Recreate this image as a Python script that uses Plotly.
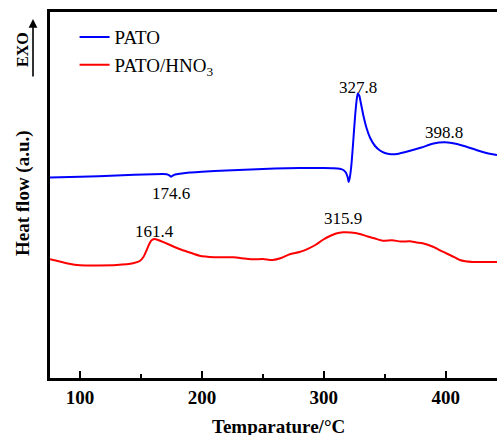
import plotly.graph_objects as go

# PATO (blue) DSC curve: temperature (°C) and heat flow (a.u.)
pato_T = [75.4, 100, 130, 160, 168, 171, 173, 174.6, 176, 178, 182, 190, 200, 220, 250, 270,
          290, 300, 308, 313, 316, 318, 319.5, 320.3, 321.2, 322.5, 324, 325.5, 326.8, 327.8,
          329, 330.5, 332.5, 335, 338, 342, 346, 350, 355, 360, 370, 380, 390, 398.8, 405,
          415, 425, 435, 442]
pato_H = [200.5, 201.2, 202.5, 203.8, 204.0, 203.8, 202.8, 201.3, 202.3, 203.5, 204.3, 205.5, 206.2,
          207.5, 209.0, 209.8, 210.0, 210.0, 209.8, 209.2, 208.0, 205.5, 201.0, 196.0, 200.0, 212.0,
          235.0, 260.0, 277.0, 284.5, 282.5, 274.0, 262.0, 250.0, 240.0, 232.0, 227.5, 225.0,
          223.8, 224.0, 227.0, 230.5, 234.5, 235.7, 235.0, 232.0, 228.0, 224.5, 223.0]

# PATO/HNO3 (red) DSC curve
hno3_T = [75.4, 90, 100, 115, 130, 143.5, 149, 152, 154.7, 157, 159, 161.4, 163, 165.6, 172,
          182, 190, 198, 210, 225.7, 235, 242, 250, 258, 265, 272, 280, 286, 293, 299, 305,
          310, 315.9, 322, 329.5, 336, 342, 348.4, 356, 363, 370.5, 376, 381, 390, 397.5,
          405, 411.5, 422, 432, 442]
hno3_H = [118.7, 114.5, 112.7, 112.6, 113.0, 114.7, 117.0, 121.0, 128.0, 134.5, 138.0, 139.0,
          138.5, 137.3, 134.0, 128.7, 125.5, 122.3, 120.8, 120.7, 119.5, 118.7, 119.0, 118.0,
          120.0, 123.7, 126.0, 128.7, 133.0, 138.0, 142.0, 144.5, 145.7, 145.5, 144.0, 141.5,
          139.5, 137.3, 137.8, 136.5, 136.7, 135.5, 134.7, 131.0, 126.3, 122.0, 118.0, 116.0,
          116.0, 116.0]

# Peak labels: (temperature, heat flow position, text)
peak_T = [174.6, 161.4, 327.8, 398.8, 315.9]
peak_H = [185.0, 147.0, 291.0, 246.0, 160.0]
peak_txt = ["174.6", "161.4", "327.8", "398.8", "315.9"]

tick_vals = [100, 200, 300, 400]
tick_txt = ["<b>100</b>", "<b>200</b>", "<b>300</b>", "<b>400</b>"]

serif = "Liberation Serif"
PW, PH = 447, 366  # plot area size in px

fig = go.Figure()
fig.add_trace(go.Scatter(x=pato_T, y=pato_H, mode="lines", name="PATO",
                         line=dict(color="#0000ff", width=2, shape="spline", smoothing=0.6)))
fig.add_trace(go.Scatter(x=hno3_T, y=hno3_H, mode="lines", name="PATO/HNO<sub>3</sub>",
                         line=dict(color="#ff0000", width=2, shape="spline", smoothing=0.6)))

for t, h, s in zip(peak_T, peak_H, peak_txt):
    fig.add_annotation(x=t, y=h, text=s, showarrow=False, xref="x", yref="y",
                       font=dict(family=serif, size=17, color="black"))

# EXO arrow
fig.add_annotation(xref="paper", yref="paper", x=-17 / PW, y=(378 - 19) / PH, ax=0, ay=59,
                   axref="pixel", ayref="pixel", showarrow=True, arrowhead=2,
                   arrowsize=1.1, arrowwidth=1.6, arrowcolor="black", text="")
fig.add_annotation(xref="paper", yref="paper", x=-28 / PW, y=(378 - 50) / PH, text="<b>EXO</b>",
                   textangle=-90, showarrow=False, xanchor="center", yanchor="middle",
                   font=dict(family=serif, size=16, color="black"))
# Y axis title
fig.add_annotation(xref="paper", yref="paper", x=-27 / PW, y=(378 - 193) / PH,
                   text="<b>Heat flow (a.u.)</b>", textangle=-90, showarrow=False,
                   xanchor="center", yanchor="middle",
                   font=dict(family=serif, size=19, color="black"))
# X axis title
fig.add_annotation(xref="paper", yref="paper", x=(278 - 50) / PW, y=-(426 - 378) / PH,
                   text="<b>Temparature/°C</b>", showarrow=False, xanchor="center", yanchor="middle",
                   font=dict(family=serif, size=19, color="black"))

fig.update_layout(
    width=497, height=435,
    margin=dict(l=50, r=0, t=12, b=57),
    plot_bgcolor="white", paper_bgcolor="white",
    font=dict(family=serif, color="black"),
    showlegend=True,
    legend=dict(x=0.055, y=0.983, xanchor="left", yanchor="top", bgcolor="rgba(0,0,0,0)",
                font=dict(family=serif, size=19, color="black"), tracegroupgap=0),
    xaxis=dict(range=[75.4, 442], showline=True, linecolor="black", linewidth=2.5, mirror=True,
               ticks="inside", ticklen=7, tickwidth=2, tickcolor="black",
               tickvals=tick_vals, ticktext=tick_txt,
               tickfont=dict(family=serif, size=19, color="black"),
               minor=dict(ticks="inside", ticklen=4, tickwidth=2, tickcolor="black", dtick=50, tick0=50),
               showgrid=False, zeroline=False, automargin=False),
    yaxis=dict(range=[0, 366], showline=True, linecolor="black", linewidth=2.5, mirror=False,
               ticks="", showticklabels=False, showgrid=False, zeroline=False, automargin=False),
)

fig.write_html("out.html", config={"displayModeBar": False},
               post_script="document.body.style.margin='0';document.body.style.overflow='hidden';")
